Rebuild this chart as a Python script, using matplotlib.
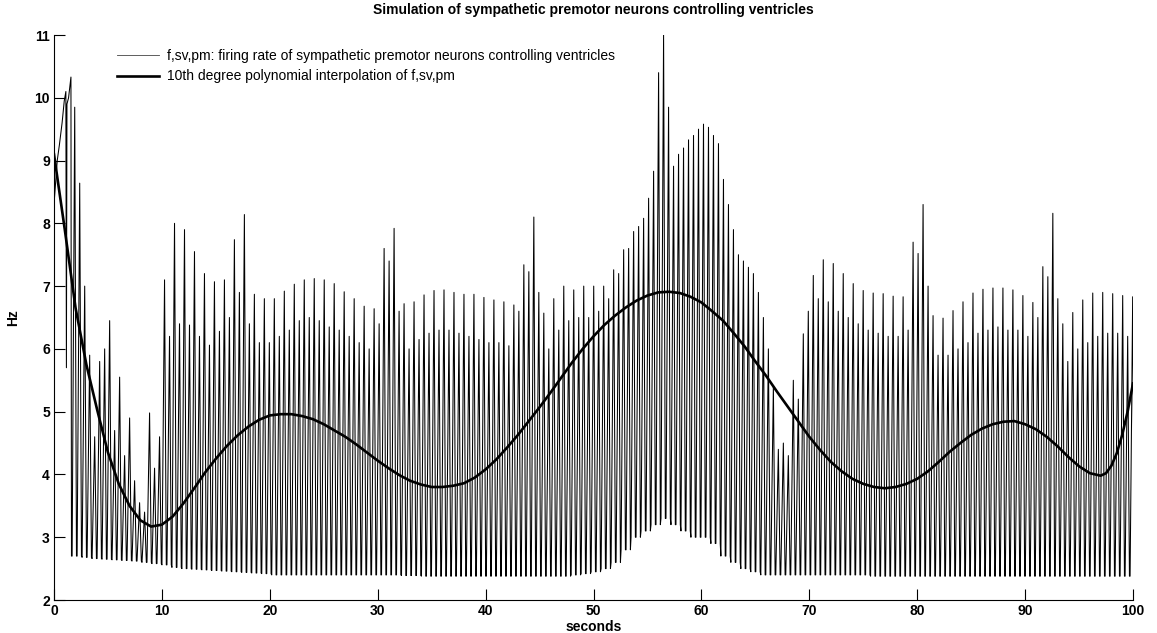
import numpy as np
import matplotlib
matplotlib.use("Agg")
import matplotlib.pyplot as plt

plt.rcParams['font.family'] = ['Liberation Sans', 'DejaVu Sans']

# start of the trace (seconds, Hz), read point by point
onset_t = [0.0, 0.3, 0.5, 0.75, 0.95, 1.1, 1.15, 1.2, 1.35, 1.57, 1.62]
onset_v = [8.3, 9.0, 9.25, 9.6, 9.95, 10.1, 5.7, 9.9, 10.0, 10.33, 2.7]

# after the onset the trace repeats a two-spike beat
beat_start = 1.62
beat_len = 0.925

# first (taller) spike of each beat, Hz
peak_a = [9.85, 7.0, 4.6, 6.0, 4.7, 4.3, 3.9, 3.4, 4.1, 7.1,
          8.0, 7.9, 7.55, 7.2, 7.07, 7.1, 7.74, 8.14, 6.87, 6.8,
          6.8, 6.92, 7.03, 7.1, 7.12, 7.1, 7.04, 6.91, 6.8, 6.68,
          6.64, 7.6, 7.92, 6.72, 6.75, 6.86, 6.93, 6.94, 6.9, 6.87,
          6.87, 6.82, 6.78, 6.75, 6.7, 7.34, 8.1, 6.57, 6.8, 7.0,
          6.94, 7.0, 7.0, 7.0, 7.26, 7.58, 7.87, 8.08, 8.83, 11.0,
          8.91, 9.2, 9.4, 9.58, 9.4, 8.7, 7.9, 7.4, 7.2, 6.5,
          5.4, 4.5, 5.5, 6.24, 7.17, 7.42, 7.36, 7.2, 7.04, 6.93,
          6.89, 6.88, 6.84, 6.83, 7.7, 8.3, 6.53, 6.49, 6.61, 6.75,
          6.89, 6.95, 6.97, 6.97, 6.94, 6.85, 6.74, 7.31, 8.16, 6.4,
          6.58, 6.78, 6.89, 6.9, 6.88, 6.85, 6.83]

# second (shorter) spike of each beat, Hz
peak_b = [8.64, 5.9, 5.8, 6.45, 5.55, 4.9, 3.55, 4.98, 4.6, 6.2,
          6.4, 6.38, 6.2, 6.06, 6.28, 6.5, 6.9, 6.4, 6.1, 6.1,
          6.2, 6.3, 6.45, 6.5, 6.45, 6.35, 6.3, 6.2, 6.1, 6.0,
          6.4, 7.4, 6.6, 6.0, 6.15, 6.25, 6.3, 6.3, 6.25, 6.2,
          6.15, 6.1, 6.1, 6.05, 6.6, 7.23, 6.9, 6.0, 6.3, 6.45,
          6.5, 6.5, 6.6, 6.8, 7.2, 7.6, 7.95, 8.4, 10.4, 9.85,
          9.1, 9.33, 9.5, 9.53, 9.27, 8.3, 7.5, 7.3, 6.9, 6.0,
          4.4, 4.3, 5.2, 6.6, 6.8, 6.75, 6.6, 6.5, 6.4, 6.3,
          6.25, 6.2, 6.2, 6.3, 7.52, 7.0, 5.9, 5.9, 6.0, 6.1,
          6.25, 6.3, 6.35, 6.3, 6.3, 6.2, 6.5, 7.15, 6.8, 5.8,
          6.0, 6.1, 6.2, 6.25, 6.25, 6.2, 6.2]

# lowest value reached in each beat, Hz
trough = [2.7, 2.68, 2.66, 2.65, 2.64, 2.63, 2.62, 2.6, 2.58, 2.56,
          2.52, 2.5, 2.49, 2.48, 2.47, 2.46, 2.45, 2.44, 2.43, 2.42,
          2.4, 2.4, 2.4, 2.4, 2.4, 2.4, 2.4, 2.4, 2.4, 2.4,
          2.4, 2.4, 2.4, 2.39, 2.39, 2.38, 2.38, 2.38, 2.38, 2.38,
          2.38, 2.38, 2.38, 2.38, 2.38, 2.38, 2.38, 2.38, 2.38, 2.38,
          2.4, 2.42, 2.45, 2.5, 2.6, 2.8, 3.0, 3.1, 3.2, 3.3,
          3.2, 3.1, 3.0, 3.0, 2.9, 2.7, 2.6, 2.5, 2.45, 2.4,
          2.4, 2.4, 2.4, 2.4, 2.4, 2.4, 2.4, 2.4, 2.4, 2.4,
          2.38, 2.38, 2.38, 2.38, 2.38, 2.38, 2.38, 2.38, 2.38, 2.38,
          2.38, 2.38, 2.38, 2.38, 2.38, 2.38, 2.38, 2.38, 2.38, 2.38,
          2.38, 2.38, 2.38, 2.38, 2.38, 2.38, 2.38]

# 10th degree polynomial curve
fit_t = list(range(0, 98)) + [97.5, 98, 98.5, 99, 99.5, 100]
fit_v = [9.1, 7.9, 6.65, 5.75, 5.03, 4.35, 3.85, 3.5, 3.27, 3.17,
         3.2, 3.33, 3.54, 3.78, 4.03, 4.25, 4.45, 4.62, 4.76, 4.87,
         4.94, 4.96, 4.96, 4.93, 4.88, 4.8, 4.7, 4.6, 4.48, 4.35,
         4.22, 4.1, 3.99, 3.9, 3.84, 3.8, 3.8, 3.82, 3.86, 3.95,
         4.08, 4.24, 4.43, 4.63, 4.85, 5.07, 5.3, 5.54, 5.78, 6.0,
         6.2, 6.38, 6.53, 6.66, 6.77, 6.85, 6.9, 6.91, 6.89, 6.83,
         6.74, 6.6, 6.45, 6.25, 6.04, 5.8, 5.57, 5.32, 5.08, 4.84,
         4.6, 4.39, 4.2, 4.05, 3.93, 3.85, 3.8, 3.78, 3.8, 3.85,
         3.93, 4.05, 4.2, 4.36, 4.5, 4.63, 4.73, 4.8, 4.84, 4.85,
         4.8, 4.72, 4.6, 4.45, 4.28, 4.13, 4.02, 3.98,
         4.02, 4.14, 4.34, 4.63, 5.0, 5.45]

# build the trace: rise to each spike, fast drop to the trough
rise = 0.3
t_sig = list(onset_t)
v_sig = list(onset_v)
for k in range(len(peak_a)):
    t0 = beat_start + k * beat_len
    for j, pk in enumerate((peak_a[k], peak_b[k])):
        ts = t0 + j * beat_len / 2
        t_sig += [ts + 0.06, ts + rise, ts + beat_len / 2]
        v_sig += [trough[k], pk, trough[k]]

fig = plt.figure(figsize=(11.57, 6.33), dpi=100)
ax = fig.add_axes([54 / 1157, 33 / 633, 1079 / 1157, 565 / 633])

ax.plot(t_sig, v_sig, color='black', lw=0.75,
        label='f,sv,pm: firing rate of sympathetic premotor neurons controlling ventricles')
ax.plot(fit_t, fit_v, color='black', lw=1.9,
        label='10th degree polynomial interpolation of f,sv,pm')

ax.set_xlim(0, 100)
ax.set_ylim(2, 11)
ax.set_xticks(range(0, 101, 10))
ax.set_yticks(range(2, 12))
for s in ('top', 'right'):
    ax.spines[s].set_visible(False)
for s in ('left', 'bottom'):
    ax.spines[s].set_linewidth(0.8)
ax.tick_params(direction='in', length=7.8, width=0.8, labelsize=10, pad=3)
for lab in ax.get_xticklabels() + ax.get_yticklabels():
    lab.set_fontweight('bold')

ax.set_title('Simulation of sympathetic premotor neurons controlling ventricles',
             fontsize=10, fontweight='bold', pad=15)
ax.set_xlabel('seconds', fontsize=10, fontweight='bold', labelpad=1)
ax.set_ylabel('Hz', fontsize=10, fontweight='bold', labelpad=10)

leg = ax.legend(loc='upper left', bbox_to_anchor=(0.047, 0.997), frameon=False,
                fontsize=10, handlelength=3.0, handletextpad=0.6, labelspacing=0.45)
leg.get_lines()[0].set_color('#444444')
leg.get_lines()[0].set_linewidth(0.6)

fig.savefig('out.png', dpi=100)
